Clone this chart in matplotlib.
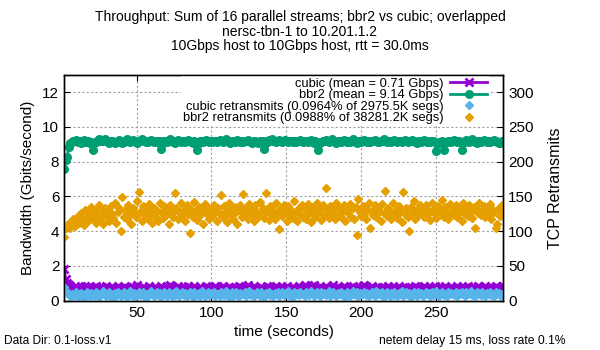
import matplotlib
matplotlib.use("Agg")
import matplotlib.pyplot as plt
import numpy as np

plt.rcParams['font.family'] = ['Liberation Sans', 'DejaVu Sans']

# one sample per second, starting ~1.4 s
t = np.arange(1.4, 296.0, 1.0)

# throughput, Gbits/second
bbr2 = [
    7.58, 8.12, 8.25, 8.85, 9.05, 9.12, 9.20, 9.18, 9.25, 9.15, 9.22, 9.10, 9.18, 9.24, 9.16, 9.12, 9.20, 9.08, 9.15, 8.68,
    9.05, 9.15, 9.20, 9.28, 9.22, 9.18, 9.25, 9.30, 9.20, 9.15, 9.10, 9.18, 9.22, 9.15, 9.08, 9.12, 9.20, 9.25, 9.18, 9.10,
    9.15, 9.22, 9.28, 9.20, 9.12, 9.18, 9.25, 9.20, 9.15, 9.10, 9.18, 9.22, 9.30, 9.25, 9.18, 9.12, 9.15, 9.20, 9.25, 9.18,
    9.12, 9.20, 9.15, 9.22, 9.18, 8.72, 9.10, 9.18, 9.22, 9.15, 9.20, 9.28, 9.22, 9.15, 9.10, 9.18, 9.25, 9.20, 9.15, 9.22,
    9.18, 9.12, 9.20, 9.25, 9.18, 9.15, 9.10, 9.18, 9.15, 8.70, 9.08, 9.18, 9.22, 9.15, 9.20, 9.25, 9.18, 9.12, 9.20, 9.15,
    9.22, 9.18, 9.12, 9.20, 9.25, 9.18, 9.15, 9.22, 9.28, 9.20, 9.15, 9.10, 9.18, 9.22, 9.15, 9.20, 9.25, 9.18, 9.12, 9.20,
    9.15, 9.22, 9.18, 9.25, 9.20, 9.15, 9.10, 9.18, 9.22, 9.15, 9.08, 9.18, 9.12, 9.20, 8.72, 9.05, 9.18, 9.25, 9.20, 9.28,
    9.22, 9.18, 9.15, 9.20, 9.25, 9.18, 9.12, 9.20, 9.25, 9.18, 9.15, 9.22, 9.18, 9.12, 9.20, 9.15, 9.22, 9.18, 9.25, 9.20,
    9.15, 9.22, 9.18, 9.12, 9.20, 9.25, 9.18, 9.10, 9.18, 9.15, 8.68, 9.05, 9.15, 9.22, 9.18, 9.25, 9.20, 9.15, 9.22, 9.28,
    9.20, 9.15, 9.10, 9.18, 9.22, 9.15, 9.20, 9.25, 9.18, 9.12, 9.20, 9.15, 9.22, 9.28, 9.20, 9.15, 9.10, 9.18, 9.22, 9.15,
    9.20, 9.25, 9.18, 9.12, 9.20, 9.15, 9.22, 9.18, 9.25, 9.20, 9.15, 9.12, 9.18, 9.22, 9.28, 9.20, 9.15, 9.22, 9.18, 9.12,
    9.20, 9.25, 9.18, 9.15, 9.22, 9.18, 9.12, 9.20, 9.25, 9.18, 9.15, 9.22, 9.18, 9.25, 9.20, 9.15, 9.10, 9.18, 9.22, 9.15,
    9.20, 9.25, 9.18, 9.12, 9.20, 9.15, 9.20, 9.18, 9.12, 8.62, 9.05, 9.15, 9.10, 9.18, 8.65, 9.08, 9.15, 9.18, 9.22, 9.15,
    9.20, 9.25, 9.18, 9.12, 9.20, 9.15, 8.70, 9.10, 9.20, 9.25, 9.18, 9.15, 9.22, 9.28, 9.20, 9.15, 9.10, 9.18, 9.22, 9.15,
    9.20, 9.25, 9.18, 9.12, 9.20, 9.15, 9.22, 9.18, 9.25, 9.20, 9.15, 9.10, 9.05, 9.18, 9.12,
]

cubic = [
    1.82, 1.25, 1.02, 0.92, 0.85, 0.74, 0.66, 0.60, 0.78, 0.58, 0.70, 0.82, 0.62, 0.72, 0.86, 0.64, 0.57, 0.78, 0.70, 0.60,
    0.76, 0.85, 0.64, 0.58, 0.74, 0.80, 0.60, 0.70, 0.84, 0.72, 0.58, 0.68, 0.80, 0.64, 0.56, 0.74, 0.86, 0.76, 0.60, 0.70,
    0.80, 0.62, 0.74, 0.58, 0.70, 0.84, 0.76, 0.60, 0.72, 0.88, 0.70, 0.58, 0.64, 0.80, 0.72, 0.60, 0.70, 0.84, 0.74, 0.58,
    0.70, 0.78, 0.62, 0.56, 0.74, 0.84, 0.70, 0.60, 0.78, 0.64, 0.72, 0.88, 0.80, 0.62, 0.58, 0.70, 0.82, 0.74, 0.60, 0.70,
    0.78, 0.62, 0.74, 0.84, 0.70, 0.58, 0.72, 0.82, 0.64, 0.56, 0.70, 0.80, 0.74, 0.60, 0.70, 0.86, 0.78, 0.62, 0.74, 0.58,
    0.70, 0.82, 0.74, 0.62, 0.58, 0.72, 0.84, 0.78, 0.62, 0.70, 0.80, 0.74, 0.60, 0.70, 0.78, 0.62, 0.74, 0.84, 0.70, 0.58,
    0.74, 0.62, 0.78, 0.88, 0.74, 0.60, 0.70, 0.82, 0.74, 0.62, 0.58, 0.70, 0.80, 0.74, 0.60, 0.70, 0.84, 0.78, 0.62, 0.74,
    0.58, 0.70, 0.82, 0.74, 0.62, 0.78, 0.70, 0.60, 0.74, 0.86, 0.70, 0.58, 0.64, 0.78, 0.74, 0.60, 0.70, 0.82, 0.74, 0.62,
    0.78, 0.90, 0.82, 0.70, 0.60, 0.74, 0.84, 0.92, 0.80, 0.70, 0.62, 0.78, 0.70, 0.60, 0.74, 0.82, 0.70, 0.58, 0.70, 0.78,
    0.88, 0.74, 0.62, 0.78, 0.70, 0.60, 0.74, 0.84, 0.78, 0.62, 0.74, 0.58, 0.70, 0.82, 0.74, 0.62, 0.78, 0.70, 0.60, 0.74,
    0.84, 0.90, 0.78, 0.70, 0.60, 0.74, 0.82, 0.70, 0.58, 0.70, 0.78, 0.74, 0.62, 0.78, 0.70, 0.60, 0.74, 0.86, 0.74, 0.62,
    0.78, 0.70, 0.60, 0.74, 0.82, 0.70, 0.58, 0.70, 0.78, 0.74, 0.62, 0.78, 0.70, 0.60, 0.74, 0.86, 0.78, 0.62, 0.74, 0.58,
    0.70, 0.82, 0.74, 0.62, 0.78, 0.70, 0.60, 0.74, 0.84, 0.74, 0.62, 0.78, 0.70, 0.58, 0.74, 0.82, 0.70, 0.60, 0.74, 0.78,
    0.70, 0.60, 0.74, 0.86, 0.74, 0.62, 0.78, 0.70, 0.58, 0.70, 0.82, 0.74, 0.62, 0.78, 0.70, 0.60, 0.74, 0.86, 0.78, 0.70,
    0.60, 0.74, 0.82, 0.70, 0.62, 0.78, 0.70, 0.60, 0.74, 0.86, 0.78, 0.70, 0.62, 0.78, 0.84,
]

# TCP retransmits per second
cubic_retr = [
    19, 14, 11, 9, 7, 10, 6, 8, 12, 5, 9, 11, 7, 4, 10, 13, 8, 6, 11, 9,
    7, 12, 10, 5, 8, 11, 14, 9, 6, 10, 12, 8, 4, 9, 11, 7, 13, 10, 6, 9,
    12, 8, 5, 10, 14, 9, 7, 11, 6, 10, 13, 8, 9, 12, 5, 10, 7, 11, 14, 9,
    6, 10, 12, 8, 11, 5, 9, 13, 10, 7, 12, 9, 6, 11, 8, 14, 10, 7, 9, 12,
    8, 11, 6, 10, 13, 9, 5, 12, 10, 8, 11, 7, 14, 9, 6, 10, 12, 8, 11, 9,
    13, 7, 10, 9, 6, 12, 10, 8, 14, 11, 5, 9, 12, 7, 10, 13, 8, 6, 11, 9,
    10, 12, 7, 9, 14, 8, 11, 6, 10, 12, 9, 7, 13, 10, 5, 11, 9, 12, 8, 10,
    7, 11, 9, 13, 6, 10, 12, 8, 11, 9, 14, 7, 10, 5, 12, 9, 11, 8, 13, 10,
    9, 6, 12, 10, 8, 14, 11, 7, 9, 13, 10, 6, 12, 9, 11, 8, 10, 14, 7, 9,
    12, 10, 6, 11, 9, 13, 8, 10, 5, 12, 11, 7, 9, 14, 10, 8, 12, 6, 11, 9,
    10, 13, 8, 11, 6, 9, 12, 10, 7, 14, 9, 11, 8, 12, 5, 10, 13, 9, 7, 11,
    8, 12, 10, 6, 11, 9, 14, 7, 10, 12, 8, 11, 5, 9, 13, 10, 7, 12, 9, 11,
    6, 10, 13, 9, 11, 7, 12, 8, 10, 14, 9, 6, 11, 12, 8, 10, 7, 13, 9, 11,
    10, 8, 12, 6, 11, 9, 13, 10, 7, 12, 9, 11, 14, 8, 10, 6, 12, 9, 11, 8,
    12, 9, 7, 11, 10, 13, 8, 10, 6, 12, 9, 11, 8, 10, 4,
]

bbr2_retr = [
    91, 105, 108, 112, 104, 110, 118, 107, 115, 122, 112, 126, 118, 109, 130, 121, 114, 127, 135, 119,
    124, 112, 131, 138, 118, 126, 110, 133, 122, 128, 115, 136, 125, 119, 140, 112, 128, 134, 100, 149,
    121, 130, 117, 138, 125, 111, 133, 127, 120, 143, 156, 128, 114, 136, 124, 131, 118, 139, 126, 112,
    134, 122, 129, 115, 141, 127, 119, 136, 124, 131, 110, 138, 126, 121, 155, 133, 117, 128, 140, 123,
    130, 114, 137, 125, 97, 132, 120, 142, 127, 116, 135, 123, 129, 111, 139, 126, 134, 118, 131, 122,
    137, 128, 115, 133, 125, 152, 120, 136, 129, 113, 141, 124, 132, 118, 135, 127, 110, 130, 138, 121,
    154, 126, 133, 117, 139, 124, 130, 115, 137, 128, 121, 142, 125, 134, 119, 155, 129, 116, 136, 123,
    131, 118, 140, 126, 103, 133, 122, 138, 127, 114, 136, 124, 131, 119, 143, 128, 115, 134, 125, 137,
    121, 132, 118, 139, 126, 113, 135, 128, 120, 141, 127, 133, 116, 138, 124, 162, 130, 119, 136, 125,
    131, 117, 140, 123, 134, 120, 128, 137, 115, 132, 126, 139, 121, 133, 118, 135, 94, 146, 127, 122,
    136, 125, 118, 130, 141, 104, 129, 123, 137, 120, 132, 127, 114, 139, 126, 158, 122, 134, 128, 117,
    140, 124, 131, 119, 136, 127, 113, 156, 125, 133, 121, 100, 135, 128, 143, 118, 130, 124, 138, 126,
    132, 120, 137, 125, 129, 116, 141, 127, 134, 119, 136, 123, 130, 145, 121, 135, 128, 117, 139, 126,
    131, 124, 138, 120, 134, 127, 115, 140, 125, 132, 122, 137, 128, 119, 135, 104, 130, 126, 141, 123,
    129, 136, 120, 133, 125, 139, 118, 131, 127, 104, 110, 134, 122, 138, 128,
]

labels = ['cubic (mean = 0.71 Gbps)', 'bbr2 (mean = 9.14 Gbps)',
          'cubic retransmits (0.0964% of 2975.5K segs)',
          'bbr2 retransmits (0.0988% of 38281.2K segs)']

fig = plt.figure(figsize=(6, 3.5), dpi=100)
ax = fig.add_axes([0.107, 0.141, 0.732, 0.645])
ax2 = ax.twinx()

l1, = ax.plot(t, cubic, color='#9400d3', lw=2, marker='x', ms=6, mew=2, label=labels[0])
l2, = ax.plot(t, bbr2, color='#009e73', lw=2, marker='o', ms=5.5, label=labels[1])
l3, = ax2.plot(t, cubic_retr, ls='none', color='#56b4e9', marker='D', ms=4.4, label=labels[2])
l4, = ax2.plot(t, bbr2_retr, ls='none', color='#e69f00', marker='D', ms=4.3, label=labels[3])

ax.set_xlim(t[0], t[-1])
ax.set_ylim(0, 13)
ax2.set_ylim(0, 325)
ax.set_xticks([50, 100, 150, 200, 250])
ax.set_yticks(range(0, 13, 2))
ax2.set_yticks(range(0, 301, 50))

ax.grid(True, color='#a0a0a0', ls=(0, (2, 2)), lw=0.8)
ax.set_axisbelow(True)

ax.tick_params(direction='in', length=4, labelsize=11, top=False, right=False)
ax2.tick_params(direction='in', length=4, labelsize=11)
# top ticks on the twin so they stay above the legend box
ax2.xaxis.set_visible(True)
ax2.tick_params(axis='x', direction='in', length=4, top=True, bottom=False,
                labeltop=False, labelbottom=False)
for a in (ax, ax2):
    for s in a.spines.values():
        s.set_linewidth(1)

ax.set_xlabel('time (seconds)', fontsize=11, labelpad=4)
ax.set_ylabel('Bandwidth (Gbits/second)', fontsize=11, labelpad=5)
ax2.set_ylabel('TCP Retransmits', fontsize=11.5, labelpad=10)

leg = ax2.legend(handles=[l1, l2, l3, l4], loc='upper right', bbox_to_anchor=(0.968, 0.995),
                 frameon=True, fancybox=False, facecolor='white', edgecolor='none',
                 framealpha=1, markerfirst=False, fontsize=9.3, labelspacing=-0.05,
                 handlelength=2.9, handletextpad=0.5, numpoints=1, borderpad=0.15,
                 borderaxespad=0)
leg.set_zorder(2)
for txt in leg.get_texts():
    txt.set_ha('right')

fig.text(0.5, 0.951, 'Throughput: Sum of 16 parallel streams; bbr2 vs cubic; overlapped',
         ha='center', va='center', fontsize=10)
fig.text(0.5, 0.909, 'nersc-tbn-1 to 10.201.1.2', ha='center', va='center', fontsize=10)
fig.text(0.5, 0.869, '10Gbps host to 10Gbps host, rtt = 30.0ms', ha='center', va='center', fontsize=10)
fig.text(0.007, 0.027, 'Data Dir: 0.1-loss.v1', ha='left', va='center', fontsize=8.6)
fig.text(0.943, 0.027, 'netem delay 15 ms, loss rate 0.1%', ha='right', va='center', fontsize=8.7)

fig.savefig('out.png', dpi=100)
